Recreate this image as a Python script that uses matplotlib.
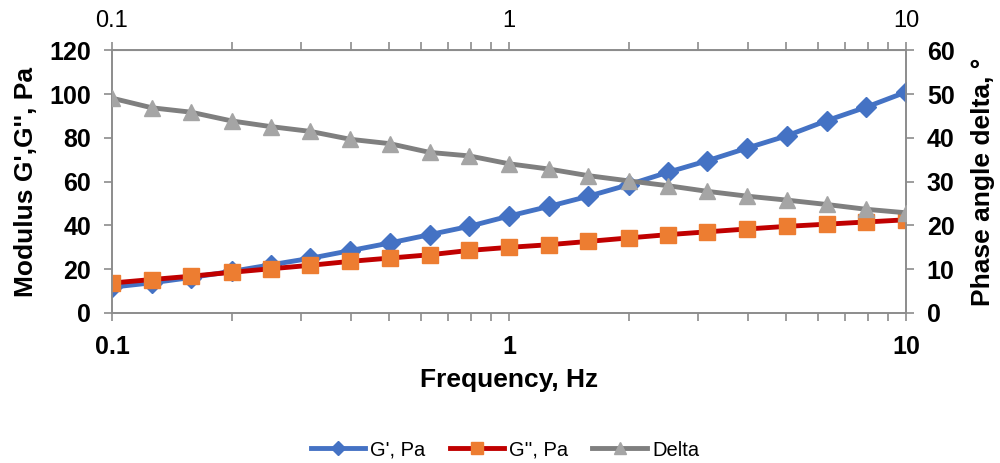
import matplotlib
matplotlib.use('Agg')
import matplotlib.pyplot as plt
from matplotlib.ticker import LogLocator, FixedLocator, FixedFormatter, NullFormatter

# frequency points, Hz
freq = [0.1, 0.126, 0.158, 0.2, 0.251, 0.316, 0.398, 0.501, 0.631, 0.794,
        1.0, 1.26, 1.58, 2.0, 2.51, 3.16, 3.98, 5.01, 6.31, 7.94, 10.0]
g1 = [11.8, 13.8, 16.2, 19.0, 22.0, 25.0, 28.5, 32.0, 35.8, 39.6,
      44.3, 48.7, 53.3, 58.6, 64.3, 69.6, 75.4, 81.0, 87.9, 94.1, 101.0]
g2 = [13.7, 15.3, 16.8, 18.6, 20.2, 21.8, 23.6, 25.1, 26.6, 28.6,
      30.0, 31.2, 32.7, 34.3, 35.8, 37.1, 38.4, 39.6, 40.6, 41.6, 42.6]
delta = [49.1, 46.9, 45.9, 43.9, 42.6, 41.5, 39.7, 38.7, 36.7, 35.9,
         34.1, 32.9, 31.4, 30.2, 29.1, 27.8, 26.7, 25.8, 24.8, 23.7, 22.9]
xticks = [0.1, 1, 10]
xlabels = ['0.1', '1', '10']

plt.rcParams['font.family'] = ['Liberation Sans', 'DejaVu Sans']
spc = '#8c8c8c'

fig = plt.figure(figsize=(10, 4.63), dpi=100)
ax = fig.add_axes([0.112, 0.324, 0.794, 0.567])

l1, = ax.plot(freq, g1, color='#4472C4', lw=3.5, marker='D', ms=10,
              markerfacecolor='#4472C4', markeredgecolor='#4472C4', label="G', Pa", zorder=3)
l2, = ax.plot(freq, g2, color='#C00000', lw=3.5, marker='s', ms=11,
              markerfacecolor='#ED7D31', markeredgecolor='#ED7D31', label="G'', Pa", zorder=4)
ax2 = ax.twinx()
l3, = ax2.plot(freq, delta, color='#7F7F7F', lw=3.5, marker='^', ms=11.5,
               markerfacecolor='#A5A5A5', markeredgecolor='#A5A5A5', label='Delta', zorder=3)

ax.set_xscale('log')
ax.set_xlim(0.1, 10)
ax.set_ylim(0, 120)
ax2.set_ylim(0, 60)
ax.set_yticks(range(0, 121, 20))
ax2.set_yticks(range(0, 61, 10))

ax.xaxis.set_major_locator(FixedLocator(xticks))
ax.xaxis.set_major_formatter(FixedFormatter(xlabels))
ax.xaxis.set_minor_locator(LogLocator(base=10, subs=range(2, 10)))
ax.xaxis.set_minor_formatter(NullFormatter())

for a in (ax, ax2):
    for s in a.spines.values():
        s.set_color(spc)
        s.set_linewidth(1.2)

ax.tick_params(axis='x', which='both', direction='out', length=6, color=spc, width=1.2,
               labelsize=18, pad=10)
ax.tick_params(axis='y', direction='out', length=6, color=spc, width=1.2, labelsize=18, pad=9)
ax2.tick_params(axis='y', direction='out', length=6, color=spc, width=1.2, labelsize=18, pad=9)
for t in ax.get_xticklabels() + ax.get_yticklabels() + ax2.get_yticklabels():
    t.set_fontweight('bold')

top = ax.secondary_xaxis('top')
top.xaxis.set_major_locator(FixedLocator(xticks))
top.xaxis.set_major_formatter(FixedFormatter(xlabels))
top.xaxis.set_minor_locator(LogLocator(base=10, subs=range(2, 10)))
top.xaxis.set_minor_formatter(NullFormatter())
top.spines['top'].set_color(spc)
top.tick_params(axis='x', which='both', direction='out', length=6, color=spc, width=1.2,
                labelsize=17, pad=7)

ax.set_xlabel('Frequency, Hz', fontsize=19, fontweight='bold', labelpad=6)
ax.set_ylabel("Modulus G',G'', Pa", fontsize=19, fontweight='bold', labelpad=8)
ax2.set_ylabel('Phase angle delta, °', fontsize=19, fontweight='bold', labelpad=12)

fig.legend(handles=[l1, l2, l3], loc='center', bbox_to_anchor=(0.505, 0.028), ncol=3,
           frameon=False, fontsize=14.5, handlelength=2.7, columnspacing=1.2,
           handletextpad=0.25, markerscale=0.75)

fig.savefig('out.png', dpi=100)
